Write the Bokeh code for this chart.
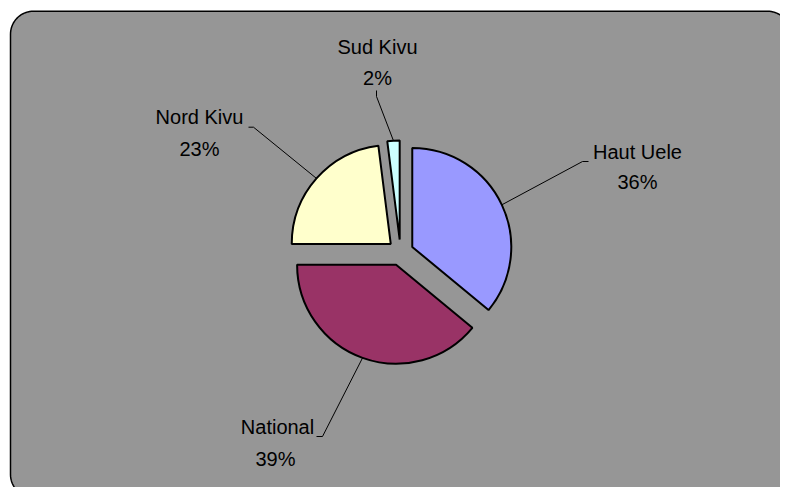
import numpy as np
from bokeh.plotting import figure
from bokeh.models import Range1d, ColumnDataSource
from bokeh.core.properties import value
from bokeh.embed import file_html
from bokeh.resources import INLINE

# ---- data ----
regions = ["Haut Uele", "National", "Nord Kivu", "Sud Kivu"]
shares = [36, 39, 23, 2]
colors = ["#9999FF", "#993366", "#FFFFCC", "#CCFFFF"]

# ---- layout (screen pixel coordinates) ----
W, H = 780, 487
def sy(y):  # screen y -> data y
    return 495 - y

cx, cy = 400, sy(252)
R = 99
EXPLODE = 13
name_pos = [(637, 151.7), (277, 426.7), (199, 116.7), (377, 46.7)]
pct_pos = [(637, 181.7), (275, 458.3), (199, 148.3), (377, 77)]
leader_end = [(582, 161), (322, 436), (253, 126.7), (376, 96)]
leader_tick = [(588, 161), (316, 436), (248, 126.7), (376, 90)]

p = figure(width=W, height=H, output_backend="svg", toolbar_location=None,
           x_range=Range1d(0, W), y_range=Range1d(495 - H, 495),
           min_border=0, background_fill_color="white", border_fill_color="white")
p.axis.visible = False
p.grid.visible = False
p.outline_line_color = None

# rounded frame
fx0, fx1, fy0, fy1, rr = 10, 790, sy(497), sy(10.7), 23
pts = []
for (ccx, ccy, a0) in [(fx1 - rr, fy1 - rr, 0), (fx0 + rr, fy1 - rr, 90),
                       (fx0 + rr, fy0 + rr, 180), (fx1 - rr, fy0 + rr, 270)]:
    t = np.radians(np.linspace(a0, a0 + 90, 20))
    pts += list(zip(ccx + rr * np.cos(t), ccy + rr * np.sin(t)))
p.patch([q[0] for q in pts], [q[1] for q in pts], fill_color="#969696",
        line_color="black", line_width=1.5)

total = sum(shares)
cum = np.concatenate([[0], np.cumsum(shares)]) / total
a_start = np.pi / 2 - cum[:-1] * 2 * np.pi
a_end = np.pi / 2 - cum[1:] * 2 * np.pi
mid = (a_start + a_end) / 2
xs = cx + EXPLODE * np.cos(mid)
ys = cy + EXPLODE * np.sin(mid)

src = ColumnDataSource(dict(x=xs, y=ys, s=a_end, e=a_start, c=colors))
p.wedge(x="x", y="y", radius=R, start_angle="s", end_angle="e",
        direction="anticlock", fill_color="c", line_color="black",
        line_width=2, source=src)

# leader lines
for i in range(len(regions)):
    x0 = xs[i] + R * np.cos(mid[i])
    y0 = ys[i] + R * np.sin(mid[i])
    ex, ey = leader_end[i]
    tx, ty = leader_tick[i]
    p.line([x0, ex, tx], [y0, sy(ey), sy(ty)], line_color="black", line_width=1)

# labels
p.text(x=[q[0] for q in name_pos], y=[sy(q[1]) for q in name_pos], text=regions,
       text_font=value("Liberation Sans"), text_font_size="20px",
       text_align="center", text_baseline="alphabetic", text_color="black")
p.text(x=[q[0] for q in pct_pos], y=[sy(q[1]) for q in pct_pos],
       text=[f"{round(v / total * 100)}%" for v in shares],
       text_font=value("Liberation Sans"), text_font_size="20px",
       text_align="center", text_baseline="alphabetic", text_color="black")

open("out.html", "w").write(file_html(p, INLINE))
